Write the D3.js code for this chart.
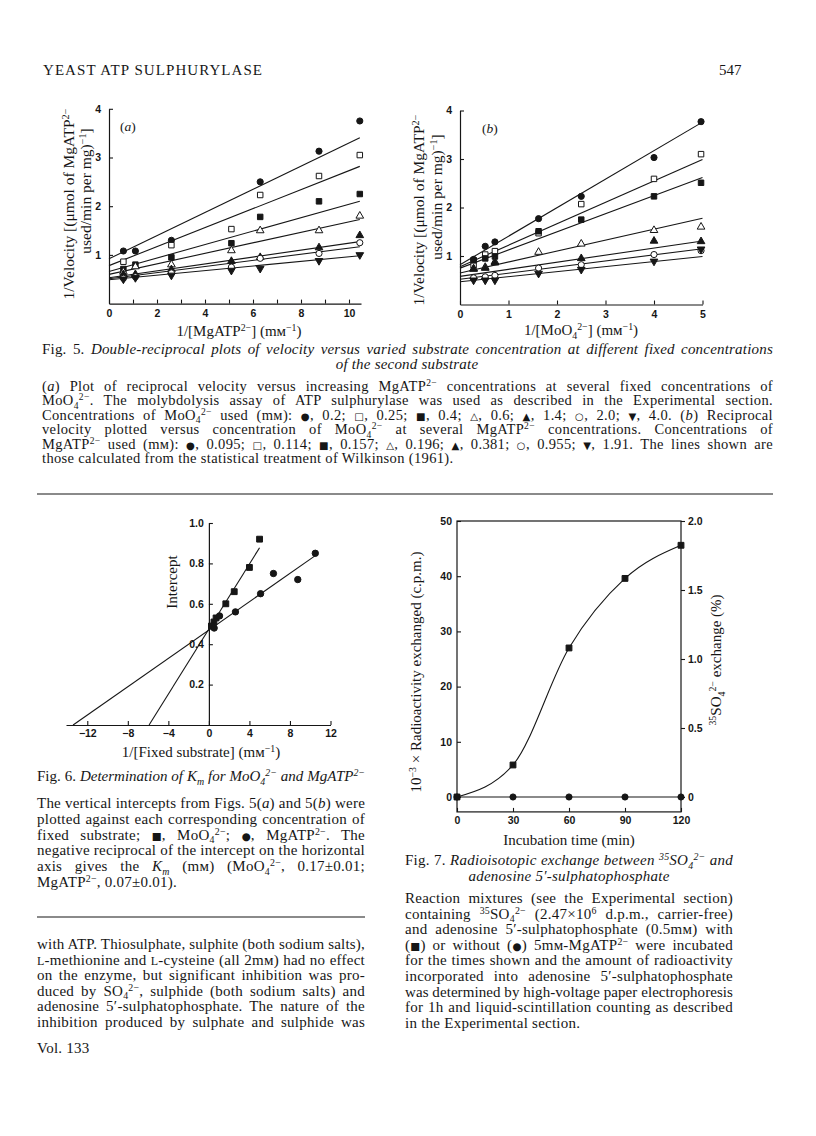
<!DOCTYPE html>
<html>
<head>
<meta charset="utf-8">
<script src="https://cdn.jsdelivr.net/npm/d3@7"></script>
<style>
  body { margin: 0; background: #fff; }
</style>
</head>
<body>
<script>
// page size
const W = 816, H = 1136
const ink = "#161616"
const serif = "'Liberation Serif', 'Times New Roman', serif"
const sans = "'Liberation Sans', Arial, sans-serif"

// ---------- data ----------
// Fig. 5 marker order: ●, □, ■, △, ▲, ○, ▼
const fig5Markers = ["fc", "os", "fs", "ot", "ft", "oc", "fd"]

// Fig. 5(a): x = 1/[MgATP2-]
const fig5aX = [0.6, 1.1, 2.6, 5.1, 6.3, 8.75, 10.45]
const fig5aY = [
    [1.08, 1.08, 1.3, null, 2.5, 3.13, 3.75],
    [0.86, null, 1.2, 1.53, 2.23, 2.62, 3.05],
    [0.71, 0.8, 0.95, 1.24, 1.78, 2.1, 2.25],
    [0.65, 0.76, 0.8, 1.09, 1.5, 1.5, 1.8],
    [0.6, 0.6, 0.7, 0.87, 0.95, 1.15, 1.4],
    [0.52, 0.55, 0.63, 0.75, 0.93, 1.03, 1.25],
    [0.5, 0.53, 0.58, 0.68, 0.72, 0.88, 1.0]
]
const fig5aIntercepts = [0.92, 0.78, 0.66, 0.6, 0.53, 0.51, 0.49]
const fig5aSlopes = [0.238, 0.195, 0.138, 0.108, 0.071, 0.063, 0.047]
const fig5aXTicks = [0, 1, 2, 3, 4, 5, 6, 7, 8, 9, 10]

// Fig. 5(b): x = 1/[MoO4 2-]
const fig5bX = [0.28, 0.52, 0.72, 1.62, 2.5, 4.0, 4.97]
const fig5bY = [
    [0.93, 1.2, 1.29, 1.77, 2.23, 3.03, 3.77],
    [0.81, 1.03, 1.1, 1.47, 2.07, 2.59, 3.1],
    [0.91, 0.95, 0.99, 1.51, 1.75, 2.23, 2.51],
    [0.74, 0.77, 0.88, 1.08, 1.25, 1.53, 1.6],
    [0.73, 0.75, 0.86, null, 0.95, 1.31, 1.3],
    [0.55, 0.57, 0.6, 0.75, 0.82, 1.03, 1.11],
    [0.5, 0.5, 0.5, 0.64, 0.72, 0.89, 1.14]
]
const fig5bIntercepts = [0.82, 0.78, 0.75, 0.65, 0.58, 0.52, 0.47]
const fig5bSlopes = [0.588, 0.442, 0.374, 0.226, 0.146, 0.126, 0.104]
const fig5bXTicks = [0, 1, 2, 3, 4, 5]
const fig5YTicks = [1, 2, 3, 4]

// Fig. 6: intercepts vs 1/[fixed substrate]
const fig6MoX = [5, 4, 2.5, 1.67, 0.71, 0.5, 0.25]
const fig6MoY = [0.92, 0.78, 0.66, 0.6, 0.53, 0.51, 0.49]
const fig6MgX = [10.5, 8.77, 6.37, 5.1, 2.62, 1.05, 0.52]
const fig6MgY = [0.85, 0.72, 0.75, 0.65, 0.56, 0.54, 0.48]
// fitted lines: [MoO4, MgATP]
const fig6LineXInt = [-5.9, -13.4]
const fig6LineYInt = [0.475, 0.47]
const fig6LineXEnd = [5.0, 10.5]
const fig6XTicks = [-12, -8, -4, 0, 4, 8, 12]
const fig6YTicks = [0.2, 0.4, 0.6, 0.8, 1.0]

// Fig. 7: exchange vs time
const fig7Time = [0, 30, 60, 90, 120]
const fig7WithMg = [0, 5.8, 27, 39.6, 45.6]
const fig7WithoutMg = [0, 0, 0, 0, 0]
const fig7YTicks = [0, 10, 20, 30, 40, 50]
const fig7RightTicks = [0, 0.5, 1.0, 1.5, 2.0]

// ---------- helpers ----------
const svg = d3.select("body").append("svg")
    .attr("width", W).attr("height", H)
    .attr("font-family", serif)

svg.append("rect").attr("width", W).attr("height", H).attr("fill", "#fff")

// tiny markup: {flags:text}, flags from _ ^ i r s m
function rich(t, str, fs) {
    const re = /\{([_^irsm]*):([^}]*)\}/g
    let last = 0, shift = 0, m
    function add(txt, flags) {
        const target = flags.includes("_") ? fs * 0.24 : flags.includes("^") ? -fs * 0.34 : 0
        const sp = t.append("tspan").text(txt).attr("dy", target - shift)
        shift = target
        if (flags.includes("_") || flags.includes("^")) sp.attr("font-size", fs * 0.66)
        if (flags.includes("i")) sp.attr("font-style", "italic")
        if (flags.includes("r")) sp.attr("font-style", "normal")
        if (flags.includes("s")) sp.attr("font-size", fs * 0.8)
        if (flags.includes("m")) sp.attr("font-size", fs * 0.7).attr("font-family", "'DejaVu Sans'")
    }
    while ((m = re.exec(str))) {
        if (m.index > last) add(str.slice(last, m.index), "")
        add(m[2], m[1])
        last = re.lastIndex
    }
    if (last < str.length) add(str.slice(last), "")
    return t
}

// spread words to the column width; squeeze letters if the line is too long
function justify(t, width, ls) {
    const w = t.node().getComputedTextLength()
    const txt = t.text()
    const n = (txt.match(/ /g) || []).length
    if (w > width) {
        t.attr("letter-spacing", (ls || 0) - (w - width) / txt.length)
    } else if (n) {
        t.style("word-spacing", ((width - w) / n) + "px")
    }
}

function label(str, x, y, fs, opts = {}) {
    const t = svg.append("text")
        .attr("font-size", fs).attr("fill", ink)
        .attr("text-anchor", opts.anchor || "start")
    if (opts.ls) t.attr("letter-spacing", opts.ls)
    if (opts.rotate) t.attr("transform", `translate(${x},${y}) rotate(-90)`)
    else t.attr("x", x).attr("y", y)
    rich(t, str, fs)
    if (opts.width) justify(t, opts.width, opts.ls)
    return t
}

function para(lines, x0, y0, lh, width, fs, ls) {
    lines.forEach(function (s, i) {
        label(s, x0, y0 + i * lh, fs, { width: i < lines.length - 1 ? width : null, ls: ls })
    })
}

const symbolMap = {
    fc: [d3.symbolCircle, true, 0], oc: [d3.symbolCircle, false, 0],
    fs: [d3.symbolSquare, true, 0], os: [d3.symbolSquare, false, 0],
    ft: [d3.symbolTriangle, true, 0], ot: [d3.symbolTriangle, false, 0],
    fd: [d3.symbolTriangle, true, 180]
}
function marker(g, kind, cx, cy, size) {
    const [type, filled, rot] = symbolMap[kind]
    const s = type === d3.symbolTriangle ? size * 0.85 : size
    g.append("path")
        .attr("d", d3.symbol().type(type).size(s)())
        .attr("transform", `translate(${cx},${cy}) rotate(${rot})`)
        .attr("fill", filled ? ink : "#fff")
        .attr("stroke", ink).attr("stroke-width", 1)
}

function styleAxis(g) {
    g.attr("color", ink)
    g.selectAll("path.domain").attr("stroke-width", 1.2)
    g.selectAll(".tick line").attr("stroke-width", 1.1)
    g.selectAll("text").attr("font-family", sans).attr("font-size", 10.5).attr("font-weight", "bold")
}

// ---------- header ----------
label("YEAST ATP SULPHURYLASE", 43, 75, 15).attr("textLength", 219).attr("lengthAdjust", "spacing")
label("547", 719, 75, 15)

// ---------- Fig. 5 ----------
function fig5(x, y, xs, ys, b0, b1, lineEnd, xTicks, xFmt) {
    const g = svg.append("g")
    g.append("g").attr("transform", `translate(0,${y(0)})`)
        .call(d3.axisBottom(x).tickValues(xTicks).tickFormat(xFmt)
            .tickSizeInner(-4).tickSizeOuter(0).tickPadding(6))
        .call(styleAxis)
    g.append("g").attr("transform", `translate(${x(0)},0)`)
        .call(d3.axisLeft(y).tickValues(fig5YTicks).tickFormat(d3.format("d"))
            .tickSizeInner(-4).tickSizeOuter(0).tickPadding(8))
        .call(styleAxis)
    b0.forEach(function (a, i) {
        g.append("line")
            .attr("x1", x(0)).attr("y1", y(a))
            .attr("x2", x(lineEnd)).attr("y2", y(a + b1[i] * lineEnd))
            .attr("stroke", ink).attr("stroke-width", 1.1)
    })
    ys.forEach(function (series, i) {
        series.forEach(function (v, j) {
            if (v != null) marker(g, fig5Markers[i], x(xs[j]), y(v), 30)
        })
    })
}

const x5a = d3.scaleLinear().domain([0, 10.5]).range([109, 361])
const y5a = d3.scaleLinear().domain([0, 4]).range([303.6, 108.8])
fig5(x5a, y5a, fig5aX, fig5aY, fig5aIntercepts, fig5aSlopes, 10.45, fig5aXTicks,
    d => d % 2 === 0 ? d : "")

const x5b = d3.scaleLinear().domain([0, 5]).range([460, 702.5])
const y5b = d3.scaleLinear().domain([0, 4]).range([304.5, 110.5])
fig5(x5b, y5b, fig5bX, fig5bY, fig5bIntercepts, fig5bSlopes, 5, fig5bXTicks, d3.format("d"))

label("({i:a})", 120, 131, 13.5)
label("({i:b})", 482, 133, 13.5)

label("1/[MgATP{^:2−}] (mм{^:−1})", 239, 336, 15, { anchor: "middle" })
label("1/[MoO{_:4}{^:2−}] (mм{^:−1})", 581, 335, 15, { anchor: "middle" })

label("1/Velocity [(μmol of MgATP{^:2−}", 74, 204, 15.5, { anchor: "middle", rotate: true })
label("used/min per mg){^:−1}]", 91, 191, 15.5, { anchor: "middle", rotate: true })
label("1/Velocity [(μmol of MgATP{^:2−}", 424, 210, 15.5, { anchor: "middle", rotate: true })
label("used/min per mg){^:−1}]", 442, 197, 15.5, { anchor: "middle", rotate: true })

// Fig. 5 caption
label("Fig. 5. {i:Double-reciprocal plots of velocity versus varied substrate concentration at different fixed concentrations}",
    42, 354, 15, { width: 731, ls: 0.2 })
label("{i:of the second substrate}", 407, 369, 15, { anchor: "middle", ls: 0.2 })

para([
    "({i:a}) Plot of reciprocal velocity versus increasing MgATP{^:2−} concentrations at several fixed concentrations of",
    "MoO{_:4}{^:2−}. The molybdolysis assay of ATP sulphurylase was used as described in the Experimental section.",
    "Concentrations of MoO{_:4}{^:2−} used (mм): {m:●}, 0.2; {m:□}, 0.25; {m:■}, 0.4; {m:△}, 0.6; {m:▲}, 1.4; {m:○}, 2.0; {m:▼}, 4.0. ({i:b}) Reciprocal",
    "velocity plotted versus concentration of MoO{_:4}{^:2−} at several MgATP{^:2−} concentrations. Concentrations of",
    "MgATP{^:2−} used (mм): {m:●}, 0.095; {m:□}, 0.114; {m:■}, 0.157; {m:△}, 0.196; {m:▲}, 0.381; {m:○}, 0.955; {m:▼}, 1.91. The lines shown are",
    "those calculated from the statistical treatment of Wilkinson (1961)."
], 42, 391, 14.4, 731, 14.5, 0.35)

svg.append("line").attr("x1", 37).attr("x2", 773).attr("y1", 494).attr("y2", 494)
    .attr("stroke", ink).attr("stroke-width", 1.2)

// ---------- Fig. 6 ----------
const x6 = d3.scaleLinear().domain([-14.1, 12]).range([66, 330.5])
const y6 = d3.scaleLinear().domain([0, 1]).range([725, 523])
const g6 = svg.append("g")
g6.append("g").attr("transform", `translate(0,${y6(0)})`)
    .call(d3.axisBottom(x6).tickValues(fig6XTicks).tickFormat(d3.format("d"))
        .tickSizeInner(-4).tickSizeOuter(0).tickPadding(5))
    .call(styleAxis)
g6.append("g").attr("transform", `translate(${x6(0)},0)`)
    .call(d3.axisLeft(y6).tickValues(fig6YTicks).tickFormat(d3.format(".1f"))
        .tickSizeInner(-4).tickSizeOuter(0).tickPadding(5))
    .call(styleAxis)
fig6LineXInt.forEach(function (xi, i) {
    const slope = fig6LineYInt[i] / -xi
    g6.append("line")
        .attr("x1", x6(xi)).attr("y1", y6(0))
        .attr("x2", x6(fig6LineXEnd[i])).attr("y2", y6(fig6LineYInt[i] + slope * fig6LineXEnd[i]))
        .attr("stroke", ink).attr("stroke-width", 1.1)
})
fig6MoX.forEach((v, i) => marker(g6, "fs", x6(v), y6(fig6MoY[i]), 34))
fig6MgX.forEach((v, i) => marker(g6, "fc", x6(v), y6(fig6MgY[i]), 32))

label("Intercept", 177, 582, 15, { anchor: "middle", rotate: true })
label("1/[Fixed substrate] (mм{^:−1})", 201, 757, 15, { anchor: "middle" })

label("Fig. 6. {i:Determination of K}{_i:m}{i: for MoO}{_i:4}{^i:2−}{i: and MgATP}{^i:2−}", 37, 781, 15, { width: 328 })
para([
    "The vertical intercepts from Figs. 5({i:a}) and 5({i:b}) were",
    "plotted against each corresponding concentration of",
    "fixed substrate; {m:■}, MoO{_:4}{^:2−}; {m:●}, MgATP{^:2−}. The",
    "negative reciprocal of the intercept on the horizontal",
    "axis gives the {i:K}{_i:m} (mм) (MoO{_:4}{^:2−}, 0.17±0.01;",
    "MgATP{^:2−}, 0.07±0.01)."
], 37, 808, 15.8, 328, 15, 0.25)

svg.append("line").attr("x1", 37).attr("x2", 365).attr("y1", 917).attr("y2", 917)
    .attr("stroke", ink).attr("stroke-width", 1.1)

para([
    "with ATP. Thiosulphate, sulphite (both sodium salts),",
    "{s:L}-methionine and {s:L}-cysteine (all 2mм) had no effect",
    "on the enzyme, but significant inhibition was pro-",
    "duced by SO{_:4}{^:2−}, sulphide (both sodium salts) and",
    "adenosine 5′-sulphatophosphate. The nature of the",
    "inhibition produced by sulphate and sulphide was",
    ""
], 37, 949, 15.6, 328, 15, 0.25)
label("Vol. 133", 37, 1053, 15, { ls: 0.25 })

// ---------- Fig. 7 ----------
const x7 = d3.scaleLinear().domain([0, 120]).range([457, 681])
const y7 = d3.scaleLinear().domain([0, 50]).range([797, 521])
const y7r = d3.scaleLinear().domain([0, 2]).range([797, 521])
const fig7Floor = -2.7
const g7 = svg.append("g")
g7.append("rect")
    .attr("x", x7(0)).attr("y", y7(50))
    .attr("width", x7(120) - x7(0)).attr("height", y7(fig7Floor) - y7(50))
    .attr("fill", "none").attr("stroke", ink).attr("stroke-width", 1.2)
g7.append("g").attr("transform", `translate(0,${y7(fig7Floor)})`)
    .call(d3.axisBottom(x7).tickValues(fig7Time).tickFormat(d3.format("d"))
        .tickSizeInner(-4).tickSizeOuter(0).tickPadding(5))
    .call(styleAxis)
g7.append("g").attr("transform", `translate(${x7(0)},0)`)
    .call(d3.axisLeft(y7).tickValues(fig7YTicks).tickFormat(d3.format("d"))
        .tickSizeInner(-4).tickSizeOuter(0).tickPadding(5))
    .call(styleAxis)
g7.append("g").attr("transform", `translate(${x7(120)},0)`)
    .call(d3.axisRight(y7r).tickValues(fig7RightTicks).tickFormat(d => d === 0 ? "0" : d3.format(".1f")(d))
        .tickSizeInner(4).tickSizeOuter(0).tickPadding(3))
    .call(styleAxis)
g7.selectAll("path.domain").remove()

g7.append("path")
    .datum(fig7Time.map((t, i) => [t, fig7WithMg[i]]))
    .attr("d", d3.line().x(d => x7(d[0])).y(d => y7(d[1])).curve(d3.curveMonotoneX))
    .attr("fill", "none").attr("stroke", ink).attr("stroke-width", 1.1)
g7.append("path")
    .datum(fig7Time.map((t, i) => [t, fig7WithoutMg[i]]))
    .attr("d", d3.line().x(d => x7(d[0])).y(d => y7(d[1])))
    .attr("fill", "none").attr("stroke", ink).attr("stroke-width", 1.1)
fig7Time.forEach((t, i) => marker(g7, "fs", x7(t), y7(fig7WithMg[i]), 34))
fig7Time.forEach((t, i) => marker(g7, "fc", x7(t), y7(fig7WithoutMg[i]), 30))

label("10{^:−3} × Radioactivity exchanged (c.p.m.)", 421, 672, 15, { anchor: "middle", rotate: true })
label("{^:35}SO{_:4}{^:2−} exchange (%)", 721, 660, 15, { anchor: "middle", rotate: true })
label("Incubation time (min)", 569, 845, 15, { anchor: "middle" })

label("Fig. 7. {i:Radioisotopic exchange between }{^i:35}{i:SO}{_i:4}{^i:2−}{i: and}", 405, 865, 15, { width: 328, ls: 0.25 })
label("{i:adenosine 5′-sulphatophosphate}", 569, 881, 15, { anchor: "middle", ls: 0.25 })
para([
    "Reaction mixtures (see the Experimental section)",
    "containing {^:35}SO{_:4}{^:2−} (2.47×10{^:6} d.p.m., carrier-free)",
    "and adenosine 5′-sulphatophosphate (0.5mм) with",
    "({m:■}) or without ({m:●}) 5mм-MgATP{^:2−} were incubated",
    "for the times shown and the amount of radioactivity",
    "incorporated into adenosine 5′-sulphatophosphate",
    "was determined by high-voltage paper electrophoresis",
    "for 1h and liquid-scintillation counting as described",
    "in the Experimental section."
], 405, 903, 15.6, 328, 15, 0.25)
</script>
</body>
</html>
